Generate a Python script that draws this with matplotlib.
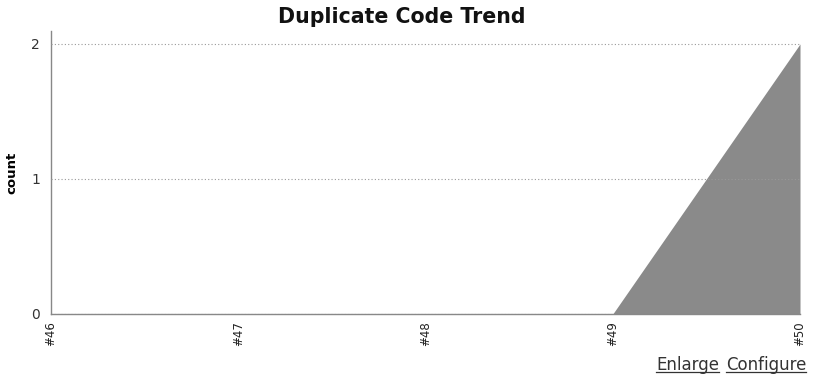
import matplotlib
matplotlib.use("Agg")
import matplotlib.pyplot as plt
from matplotlib.lines import Line2D

builds = ["#46", "#47", "#48", "#49", "#50"]
counts = [0, 0, 0, 0, 2]

plt.rcParams['font.family'] = ['DejaVu Sans']

fig = plt.figure(figsize=(8.15, 3.81), dpi=100)
ax = fig.add_axes([0.0626, 0.1759, 0.9190, 0.7427])

x = list(range(len(builds)))
ax.fill_between(x, counts, 0, color="#8a8a8a", linewidth=0)
ax.set_xlim(0, len(builds) - 1)
ax.set_ylim(0, 2.096)
ax.set_yticks([0, 1, 2])
ax.set_xticks(x)
ax.set_xticklabels(builds, rotation=90, fontsize=8.5, color="#222222")
ax.tick_params(axis="y", labelsize=10, colors="#333333", length=0, pad=8)
ax.tick_params(axis="x", length=0, pad=5)
ax.yaxis.grid(True, linestyle=(0, (1, 2)), color="#999999", linewidth=0.8)
ax.set_axisbelow(False)
for s in ["top", "right"]:
    ax.spines[s].set_visible(False)
for s in ["left", "bottom"]:
    ax.spines[s].set_color("#888888")
    ax.spines[s].set_linewidth(1.0)

ax.set_ylabel("count", fontsize=9.5, fontweight="bold")
ax.yaxis.set_label_coords(-0.043, 0.5)
fig.text(0.493, 0.955, "Duplicate Code Trend", ha="center", va="center",
         fontsize=14.8, fontweight="bold", color="#111111")

# links under the chart, underlined by hand
fig.canvas.draw()
r = fig.canvas.get_renderer()
xr = 0.989
for label in ["Configure", "Enlarge"]:
    t = fig.text(xr, 0.03, label, ha="right", va="baseline", fontsize=12,
                 color="#333333")
    bb = t.get_window_extent(r).transformed(fig.transFigure.inverted())
    fig.add_artist(Line2D([bb.x0, bb.x1], [0.024, 0.024], color="#333333",
                          linewidth=0.9, transform=fig.transFigure))
    xr = bb.x0 - 0.008

fig.savefig("out.png", dpi=100)
